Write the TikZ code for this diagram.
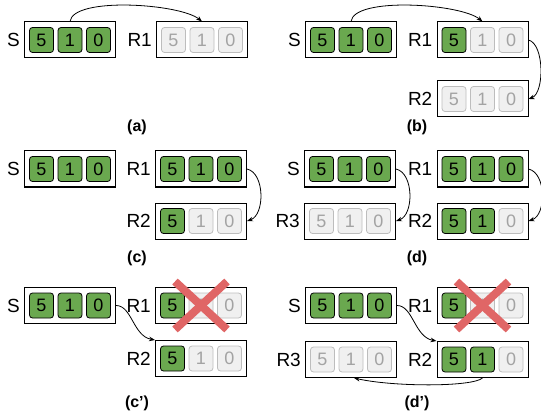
\documentclass[tikz,border=0pt]{standalone}
\usepackage{fontspec}
\setmainfont{Liberation Sans}
\usetikzlibrary{arrows.meta}
\definecolor{cgreen}{HTML}{6AA84F}
\definecolor{cgreyfill}{HTML}{F0F0F0}
\definecolor{cgreydraw}{HTML}{BDBDBD}
\definecolor{cgreytext}{HTML}{A3A3A3}
\definecolor{cred}{HTML}{E06666}
\tikzset{
  regbox/.style={draw, line width=1pt, minimum width=91pt, minimum height=36pt, inner sep=0pt},
  cellbase/.style={rounded corners=3pt, minimum width=24pt, minimum height=25pt, inner sep=0pt, line width=0.8pt, font=\fontsize{18}{18}\selectfont},
  cellon/.style={cellbase, draw=black, fill=cgreen, text=black},
  celloff/.style={cellbase, draw=cgreydraw, fill=cgreyfill, text=cgreytext},
  lbl/.style={inner sep=0pt, font=\fontsize{19}{19}\selectfont},
  capstyle/.style={inner sep=0pt, font=\fontsize{16}{16}\selectfont\bfseries},
  conn/.style={line width=0.8pt, -{Stealth[length=6pt,width=4.5pt]}},
  cross/.style={draw=cred, line width=8pt}
}
\newcommand\regbox[7]{%
  \node[regbox] (#1) at (#2,#3) {};
  \node[cell#5] (#1a) at ([xshift=-28.5pt]#1.center) {5};
  \node[cell#6] (#1b) at (#1.center) {1};
  \node[cell#7] (#1c) at ([xshift=28.5pt]#1.center) {0};
  \node[lbl, anchor=east] (#1l) at ([xshift=-4pt]#1.west) {#4};
}
\begin{document}
\begin{tikzpicture}[x=1pt,y=-1pt]
\useasboundingbox (0,0) rectangle (541,417);
% (a)
\regbox{aS}{70}{40}{S}{on}{on}{on}
\regbox{aR1}{202}{40}{R1}{off}{off}{off}
\draw[conn] (aS.north) .. controls +(3,-25) and +(-22,-18) .. (aR1.north);
\node[capstyle] (capa) at (137,127) {(a)};
% (b)
\regbox{bS}{351}{40}{S}{on}{on}{on}
\regbox{bR1}{482.5}{40}{R1}{on}{off}{off}
\regbox{bR2}{482.5}{99}{R2}{off}{off}{off}
\draw[conn] (bS.north) .. controls +(3,-25) and +(-22,-18) .. (bR1.north);
\draw[conn] (bR1.east) .. controls +(16,4) and +(16,-6) .. (bR2.east);
\node[capstyle] (capb) at (417,127) {(b)};
% (c)
\regbox{cS}{70}{169}{S}{on}{on}{on}
\regbox{cR1}{201}{169}{R1}{on}{on}{on}
\regbox{cR2}{201}{221}{R2}{on}{off}{off}
\draw[conn] (cR1.east) .. controls +(18,4) and +(18,-6) .. (cR2.east);
\node[capstyle] (capc) at (137,258) {(c)};
% (d)
\regbox{dS}{350}{169}{S}{on}{on}{on}
\regbox{dR1}{482.5}{169}{R1}{on}{on}{on}
\regbox{dR3}{350}{221}{R3}{off}{off}{off}
\regbox{dR2}{482.5}{221}{R2}{on}{on}{off}
\draw[conn] (dS.east) .. controls +(18,4) and +(18,-6) .. (dR3.east);
\draw[conn] (dR1.east) .. controls +(18,4) and +(18,-6) .. (dR2.east);
\node[capstyle] (capd) at (417,258) {(d)};
% (c')
\regbox{eS}{70}{305.5}{S}{on}{on}{on}
\regbox{eR1}{201}{305.5}{R1}{on}{off}{off}
\regbox{eR2}{201}{358.5}{R2}{on}{off}{off}
\draw[conn] (eS.east) .. controls +(16,0) and +(-22,-4) .. (eR2.north west);
\draw[cross] ([shift={(-26,-24)}]eR1.center) -- ([shift={(26,24)}]eR1.center);
\draw[cross] ([shift={(26,-24)}]eR1.center) -- ([shift={(-26,24)}]eR1.center);
\node[capstyle] (cape) at (137,403) {(c’)};
% (d')
\regbox{fS}{351}{305.5}{S}{on}{on}{on}
\regbox{fR1}{482.5}{305.5}{R1}{on}{off}{off}
\regbox{fR3}{351}{359.5}{R3}{off}{off}{off}
\regbox{fR2}{482.5}{359.5}{R2}{on}{on}{off}
\draw[conn] (fS.east) .. controls +(16,0) and +(-22,-4) .. (fR2.north west);
\draw[cross] ([shift={(-26,-24)}]fR1.center) -- ([shift={(26,24)}]fR1.center);
\draw[cross] ([shift={(26,-24)}]fR1.center) -- ([shift={(-26,24)}]fR1.center);
\draw[conn] (fR2.south) .. controls +(-10,9) and +(40,9) .. ([xshift=3pt]fR3.south);
\node[capstyle] (capf) at (417,403) {(d’)};
\end{tikzpicture}
\end{document}
